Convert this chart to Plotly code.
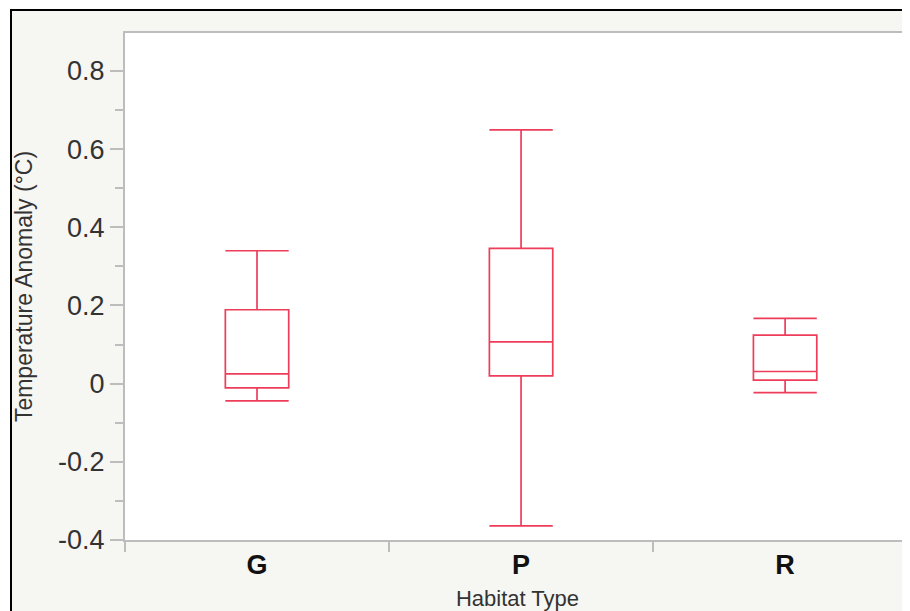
import plotly.graph_objects as go

categories = ["G", "P", "R"]
upper_whisker = [0.340, 0.649, 0.167]
q3_values = [0.189, 0.346, 0.124]
median_values = [0.025, 0.107, 0.031]
q1_values = [-0.011, 0.020, 0.009]
lower_whisker = [-0.044, -0.364, -0.023]
y_tick_vals = [-0.4, -0.2, 0, 0.2, 0.4, 0.6, 0.8]
y_tick_text = ["-0.4", "-0.2", "0", "0.2", "0.4", "0.6", "0.8"]

# page has an 8px body margin; figure is placed at (8, 8)
OFF = 8
W, H = 910 - OFF, 611 - OFF
ML, MR, MT, MB = 125 - OFF, 0, 33 - OFF, 71
PW = W - ML - MR
PH = H - MT - MB


def px(x):
    # page pixel x -> paper coordinate
    return (x - OFF - ML) / PW


def py(y):
    # page pixel y -> paper coordinate
    return (H - MB - (y - OFF)) / PH


fig = go.Figure()
fig.add_trace(go.Box(
    x=categories,
    q1=q1_values,
    median=median_values,
    q3=q3_values,
    lowerfence=lower_whisker,
    upperfence=upper_whisker,
    boxpoints=False,
    whiskerwidth=1,
    width=0.24,
    line=dict(color="#ee3d5a", width=1.7),
    fillcolor="rgba(0,0,0,0)",
    hoverinfo="skip",
    showlegend=False,
))

shapes = [
    dict(type="rect", xref="paper", yref="paper", x0=px(0), x1=px(912), y0=py(0), y1=py(10),
         fillcolor="white", line=dict(width=0), layer="below"),
    dict(type="rect", xref="paper", yref="paper", x0=px(0), x1=px(10), y0=py(0), y1=py(615),
         fillcolor="white", line=dict(width=0), layer="below"),
    dict(type="line", xref="paper", yref="paper", x0=px(11), x1=px(11), y0=py(10), y1=py(620),
         line=dict(color="black", width=2), layer="below"),
    dict(type="line", xref="paper", yref="paper", x0=px(10), x1=px(920), y0=py(10), y1=py(10),
         line=dict(color="black", width=2), layer="below"),
]

axis_gray = "#bdbdbd"
fig.update_layout(
    width=W, height=H,
    margin=dict(l=ML, r=MR, t=MT, b=MB, autoexpand=False),
    paper_bgcolor="#f6f6f2",
    plot_bgcolor="white",
    font=dict(family="Liberation Sans, Arial, sans-serif", color="#333333"),
    shapes=shapes,
    xaxis=dict(
        type="category",
        range=[-0.5, 2.473],
        showline=True, linecolor=axis_gray, linewidth=2, mirror=True,
        ticks="outside", tickson="boundaries", ticklen=10, tickwidth=1.5, tickcolor=axis_gray,
        showgrid=False, zeroline=False,
        tickfont=dict(size=27, color="#111111", family="Liberation Sans, Arial, sans-serif", weight="bold"),
        title=dict(text="Habitat Type", font=dict(size=22, color="#333333"), standoff=11),
        automargin=False,
    ),
    yaxis=dict(
        range=[-0.4, 0.897],
        showline=True, linecolor=axis_gray, linewidth=2, mirror=False,
        tickmode="array", tickvals=y_tick_vals, ticktext=y_tick_text,
        ticks="outside", ticklen=13, tickwidth=1.5, tickcolor=axis_gray,
        minor=dict(ticks="outside", ticklen=8, tickwidth=1.5, tickcolor=axis_gray, dtick=0.1, tick0=0),
        showgrid=False, zeroline=False,
        tickfont=dict(size=27, color="#333333"),
        title=dict(text="Temperature Anomaly (°C)", font=dict(size=23, color="#333333"), standoff=19),
        automargin=False,
    ),
)

fig.write_html("out.html")
